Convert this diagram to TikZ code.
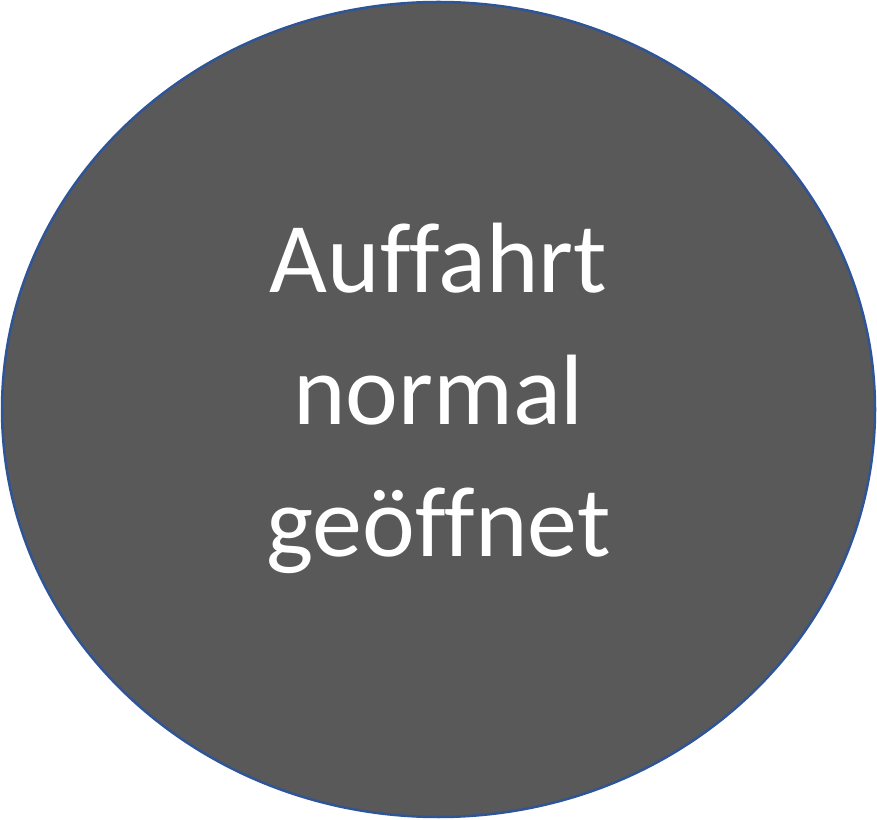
\documentclass[tikz,border=0pt]{standalone}
\usepackage{fontspec}
\setmainfont{Carlito}[Ligatures=NoCommon]
\usetikzlibrary{shapes.geometric}
\definecolor{circfill}{HTML}{595959}
\definecolor{circline}{HTML}{2F5597}
\begin{document}
\begin{tikzpicture}
	[x=1pt,y=1pt,
	state/.style={ellipse,draw=circline,line width=2.5pt,fill=circfill,
		minimum width=873pt,minimum height=815pt,inner sep=0pt,
		text=white,align=center,text depth=40pt,
		font=\fontsize{100}{132}\selectfont}]
	\useasboundingbox (0,0) rectangle (877,819);
	\node[state] (auffahrt) at (438.5,409.5) {Auffahrt\\normal\\geöffnet};
\end{tikzpicture}
\end{document}
